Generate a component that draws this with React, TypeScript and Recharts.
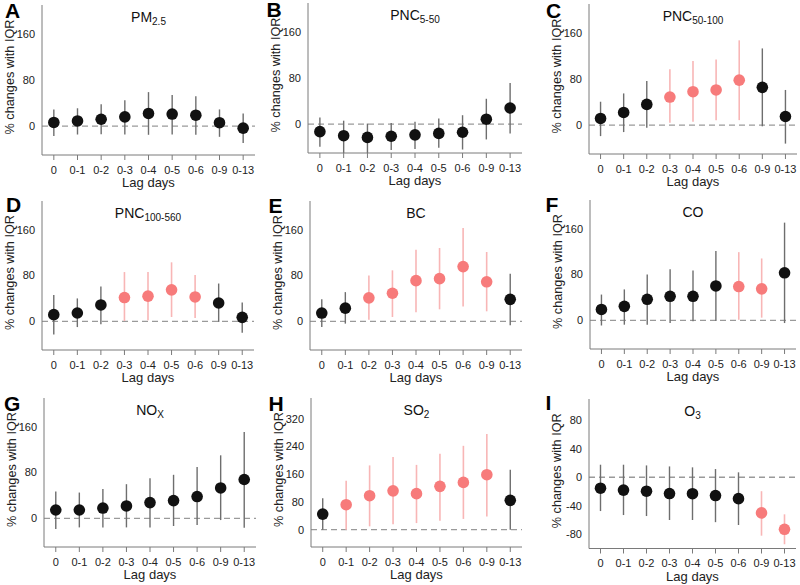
import React from 'react';
import { ScatterChart, Scatter, XAxis, YAxis, ErrorBar, ReferenceLine } from 'recharts';

const lagLabels = ['0', '0-1', '0-2', '0-3', '0-4', '0-5', '0-6', '0-9', '0-13'];

// A: PM2.5
const pm25Est = [6.4, 9, 12, 16, 22, 21, 19, 6, -3.5];
const pm25Low = [-17, -14.5, -14, -14.5, -15, -14.5, -15, -18.5, -29];
const pm25High = [29, 31, 38, 45, 59, 54, 52, 29, 22];
const pm25Sig = [false, false, false, false, false, false, false, false, false];

// B: PNC5-50
const pnc550Est = [-13, -20, -23, -21, -18.5, -16, -14, 8.6, 28];
const pnc550Low = [-39, -50, -50, -45, -43, -41, -44, -26.5, -16];
const pnc550High = [11.5, 6, 1, 2, 4, 10, 15.5, 44, 71.5];
const pnc550Sig = [false, false, false, false, false, false, false, false, false];

// C: PNC50-100
const pnc50100Est = [11.6, 22, 36, 48.7, 58, 61, 78, 65.5, 15];
const pnc50100Low = [-19, -12, -4.6, 4, 6, 8.7, 8.7, -2, -32];
const pnc50100High = [40.6, 55, 76.5, 97, 111, 114, 147, 133, 61];
const pnc50100Sig = [false, false, false, true, true, true, true, false, false];

// D: PNC100-560
const pnc100560Est = [11.7, 14.6, 28.6, 41.5, 44, 55, 42.6, 32, 7];
const pnc100560Low = [-23, -10, -5, 0.6, 1.7, 7.6, 6, -1, -20];
const pnc100560High = [46, 40, 61, 86, 86, 103, 81, 66, 32.7];
const pnc100560Sig = [false, false, false, true, true, true, true, false, false];

// E: BC
const bcEst = [14.5, 23, 41, 49, 71, 74.5, 95.5, 69, 38.4];
const bcLow = [-10, -4, 3, 7.6, 16, 21, 26, 17.5, -7];
const bcHigh = [38.4, 51, 80, 89, 125, 128, 163, 121, 83];
const bcSig = [false, false, true, true, true, true, true, true, false];

// F: CO
const coEst = [19, 24.4, 36.7, 42, 42, 60, 59, 55, 83];
const coLow = [-9, -7.6, -7.6, -4.7, -1.7, -1, 1, 4.7, -4.7];
const coHigh = [45, 54, 80, 89, 87, 121, 119, 108, 170.5];
const coSig = [false, false, false, false, false, false, true, true, false];

// G: NOx
const noxEst = [14.6, 14.6, 18, 21.6, 27.5, 31, 38, 53, 67.8];
const noxLow = [-18.7, -15.8, -15.8, -15.8, -15.8, -13.4, -11.7, -3, -16.4];
const noxHigh = [46.7, 45, 51.4, 59.6, 70, 76, 89.4, 110, 150.7];
const noxSig = [false, false, false, false, false, false, false, false, false];

// H: SO2
const so2Est = [45, 72, 98, 112, 104, 125, 136.5, 158.6, 84.6];
const so2Low = [0, 0, 9.6, 16, 19, 26, 31, 38, 0];
const so2High = [91, 141, 185.5, 209.5, 187, 219, 242, 276, 173];
const so2Sig = [false, true, true, true, true, true, true, true, false];

// I: O3
const o3Est = [-15.3, -18, -19.5, -22.8, -23, -25.6, -30, -50, -73];
const o3Low = [-47.4, -53, -54.4, -60, -60, -63, -67, -82, -94];
const o3High = [17.7, 17.7, 16.7, 15.3, 14, 11.6, 7, -19.5, -52];
const o3Sig = [false, false, false, false, false, false, false, true, true];

const ticksStd = [0, 80, 160];
const ticksSo2 = [0, 80, 160, 240, 320];
const ticksO3 = [-80, -40, 0, 40, 80];

const FONT = 'Arial, "Liberation Sans", Helvetica, sans-serif';
const PINK = '#f77b7b';
const PINK_LINE = '#f8b6b6';
const BLACK = '#111111';
const GREY_LINE = '#6e6e6e';
const AXIS = '#7a7a7a';

type PanelCfg = {
  letter: string; title: string; sub: string;
  est: number[]; low: number[]; high: number[]; sig: boolean[];
  domain: [number, number]; ticks: number[];
  colX: number; left: number; right: number; top: number; bottom: number;
  letterX: number; letterY: number;
};

const panels: PanelCfg[] = [
  { letter: 'A', title: 'PM', sub: '2.5', est: pm25Est, low: pm25Low, high: pm25High, sig: pm25Sig, domain: [-50, 210], ticks: ticksStd, colX: 0, left: 42, right: 255, top: 5, bottom: 155, letterX: 5, letterY: 18 },
  { letter: 'B', title: 'PNC', sub: '5-50', est: pnc550Est, low: pnc550Low, high: pnc550High, sig: pnc550Sig, domain: [-50, 210], ticks: ticksStd, colX: 265, left: 308, right: 522, top: 3, bottom: 153, letterX: 266.5, letterY: 17 },
  { letter: 'C', title: 'PNC', sub: '50-100', est: pnc50100Est, low: pnc50100Low, high: pnc50100High, sig: pnc50100Sig, domain: [-50, 210], ticks: ticksStd, colX: 530, left: 589, right: 797, top: 4, bottom: 154, letterX: 546, letterY: 18 },
  { letter: 'D', title: 'PNC', sub: '100-560', est: pnc100560Est, low: pnc100560Low, high: pnc100560High, sig: pnc100560Sig, domain: [-50, 210], ticks: ticksStd, colX: 0, left: 42, right: 254, top: 201, bottom: 350, letterX: 6, letterY: 212 },
  { letter: 'E', title: 'BC', sub: '', est: bcEst, low: bcLow, high: bcHigh, sig: bcSig, domain: [-50, 210], ticks: ticksStd, colX: 265, left: 310, right: 522, top: 201, bottom: 350, letterX: 268.5, letterY: 213 },
  { letter: 'F', title: 'CO', sub: '', est: coEst, low: coLow, high: coHigh, sig: coSig, domain: [-50, 210], ticks: ticksStd, colX: 530, left: 590, right: 796, top: 200, bottom: 349, letterX: 545.5, letterY: 212 },
  { letter: 'G', title: 'NO', sub: 'X', est: noxEst, low: noxLow, high: noxHigh, sig: noxSig, domain: [-50, 210], ticks: ticksStd, colX: 0, left: 44, right: 256, top: 398, bottom: 547, letterX: 4, letterY: 411 },
  { letter: 'H', title: 'SO', sub: '2', est: so2Est, low: so2Low, high: so2High, sig: so2Sig, domain: [-50, 380], ticks: ticksSo2, colX: 265, left: 311, right: 522, top: 398, bottom: 547, letterX: 268.5, letterY: 411 },
  { letter: 'I', title: 'O', sub: '3', est: o3Est, low: o3Low, high: o3High, sig: o3Sig, domain: [-100, 110], ticks: ticksO3, colX: 530, left: 589, right: 796, top: 398.5, bottom: 548, letterX: 545.5, letterY: 410 },
];

function buildRows(p: PanelCfg, want: boolean) {
  return p.est
    .map((v, i) => ({ x: i, y: v, err: [v - p.low[i], p.high[i] - v], s: p.sig[i] }))
    .filter((r) => r.s === want);
}

function XLabel(props: any) {
  const vb = props.viewBox || {};
  return (
    <text x={vb.x + vb.width / 2} y={vb.y + 32} textAnchor="middle" fontSize={13} fill="#222" fontFamily={FONT}>
      Lag days
    </text>
  );
}

function YLabel(props: any) {
  const vb = props.viewBox || {};
  const cx = vb.x + vb.width - 32;
  const cy = vb.y + vb.height / 2 - 3;
  return (
    <text x={cx} y={cy} transform={`rotate(-90 ${cx} ${cy})`} textAnchor="middle" dominantBaseline="central" fontSize={12.7} fill="#222" fontFamily={FONT}>
      % changes with IQR
    </text>
  );
}

const blackDot = (props: any) => <circle cx={props.cx} cy={props.cy} r={5.8} fill={BLACK} />;
const pinkDot = (props: any) => <circle cx={props.cx} cy={props.cy} r={5.8} fill={PINK} />;

function Panel({ p }: { p: PanelCfg }) {
  const yAxisW = p.left - p.colX;
  const chartW = p.right - p.colX + 2;
  const chartH = p.bottom - p.top + 2 + 40;
  const blackRows = buildRows(p, false);
  const pinkRows = buildRows(p, true);
  const tickStyle = { fontSize: 11, fill: '#222', fontFamily: FONT };
  return (
    <div style={{ position: 'absolute', left: p.colX, top: p.top - 2 }}>
      <ScatterChart width={chartW} height={chartH} margin={{ top: 2, right: 2, bottom: 0, left: 0 }}>
        <XAxis
          type="number"
          dataKey="x"
          domain={[-0.5, 8.5]}
          ticks={[0, 1, 2, 3, 4, 5, 6, 7, 8]}
          tickFormatter={(v: number) => lagLabels[v]}
          allowDataOverflow
          interval={0}
          height={40}
          axisLine={{ stroke: AXIS }}
          tickLine={{ stroke: AXIS }}
          tickSize={5}
          tickMargin={6}
          tick={tickStyle}
          label={<XLabel />}
        />
        <YAxis
          type="number"
          dataKey="y"
          domain={p.domain}
          ticks={p.ticks}
          allowDataOverflow
          interval={0}
          width={yAxisW}
          axisLine={{ stroke: AXIS }}
          tickLine={false}
          tickSize={0}
          tickMargin={7}
          tick={tickStyle}
          label={<YLabel />}
        />
        <ReferenceLine y={0} stroke="#9a9a9a" strokeDasharray="6 4" strokeWidth={1.4} />
        <Scatter data={blackRows} isAnimationActive={false} shape={blackDot}>
          <ErrorBar dataKey="err" direction="y" width={0} stroke={GREY_LINE} strokeWidth={1.4} />
        </Scatter>
        <Scatter data={pinkRows} isAnimationActive={false} shape={pinkDot}>
          <ErrorBar dataKey="err" direction="y" width={0} stroke={PINK_LINE} strokeWidth={1.6} />
        </Scatter>
      </ScatterChart>
    </div>
  );
}

export default function App() {
  return (
    <div style={{ position: 'absolute', left: 0, top: 0, width: 800, height: 585, background: '#fff', overflow: 'hidden' }}>
      {panels.map((p) => (
        <Panel key={p.letter} p={p} />
      ))}
      <svg width={800} height={585} style={{ position: 'absolute', left: 0, top: 0, pointerEvents: 'none' }}>
        {panels.map((p) => (
          <g key={p.letter}>
            <text x={p.letterX} y={p.letterY} fontSize={21} fontWeight="bold" fill="#000" fontFamily={FONT}>
              {p.letter}
            </text>
            <text x={(p.left + p.right) / 2} y={p.top + 17} textAnchor="middle" fontSize={14} fill="#111" fontFamily={FONT}>
              {p.title}
              {p.sub ? (
                <tspan fontSize={10} dy={3}>
                  {p.sub}
                </tspan>
              ) : null}
            </text>
          </g>
        ))}
      </svg>
    </div>
  );
}
